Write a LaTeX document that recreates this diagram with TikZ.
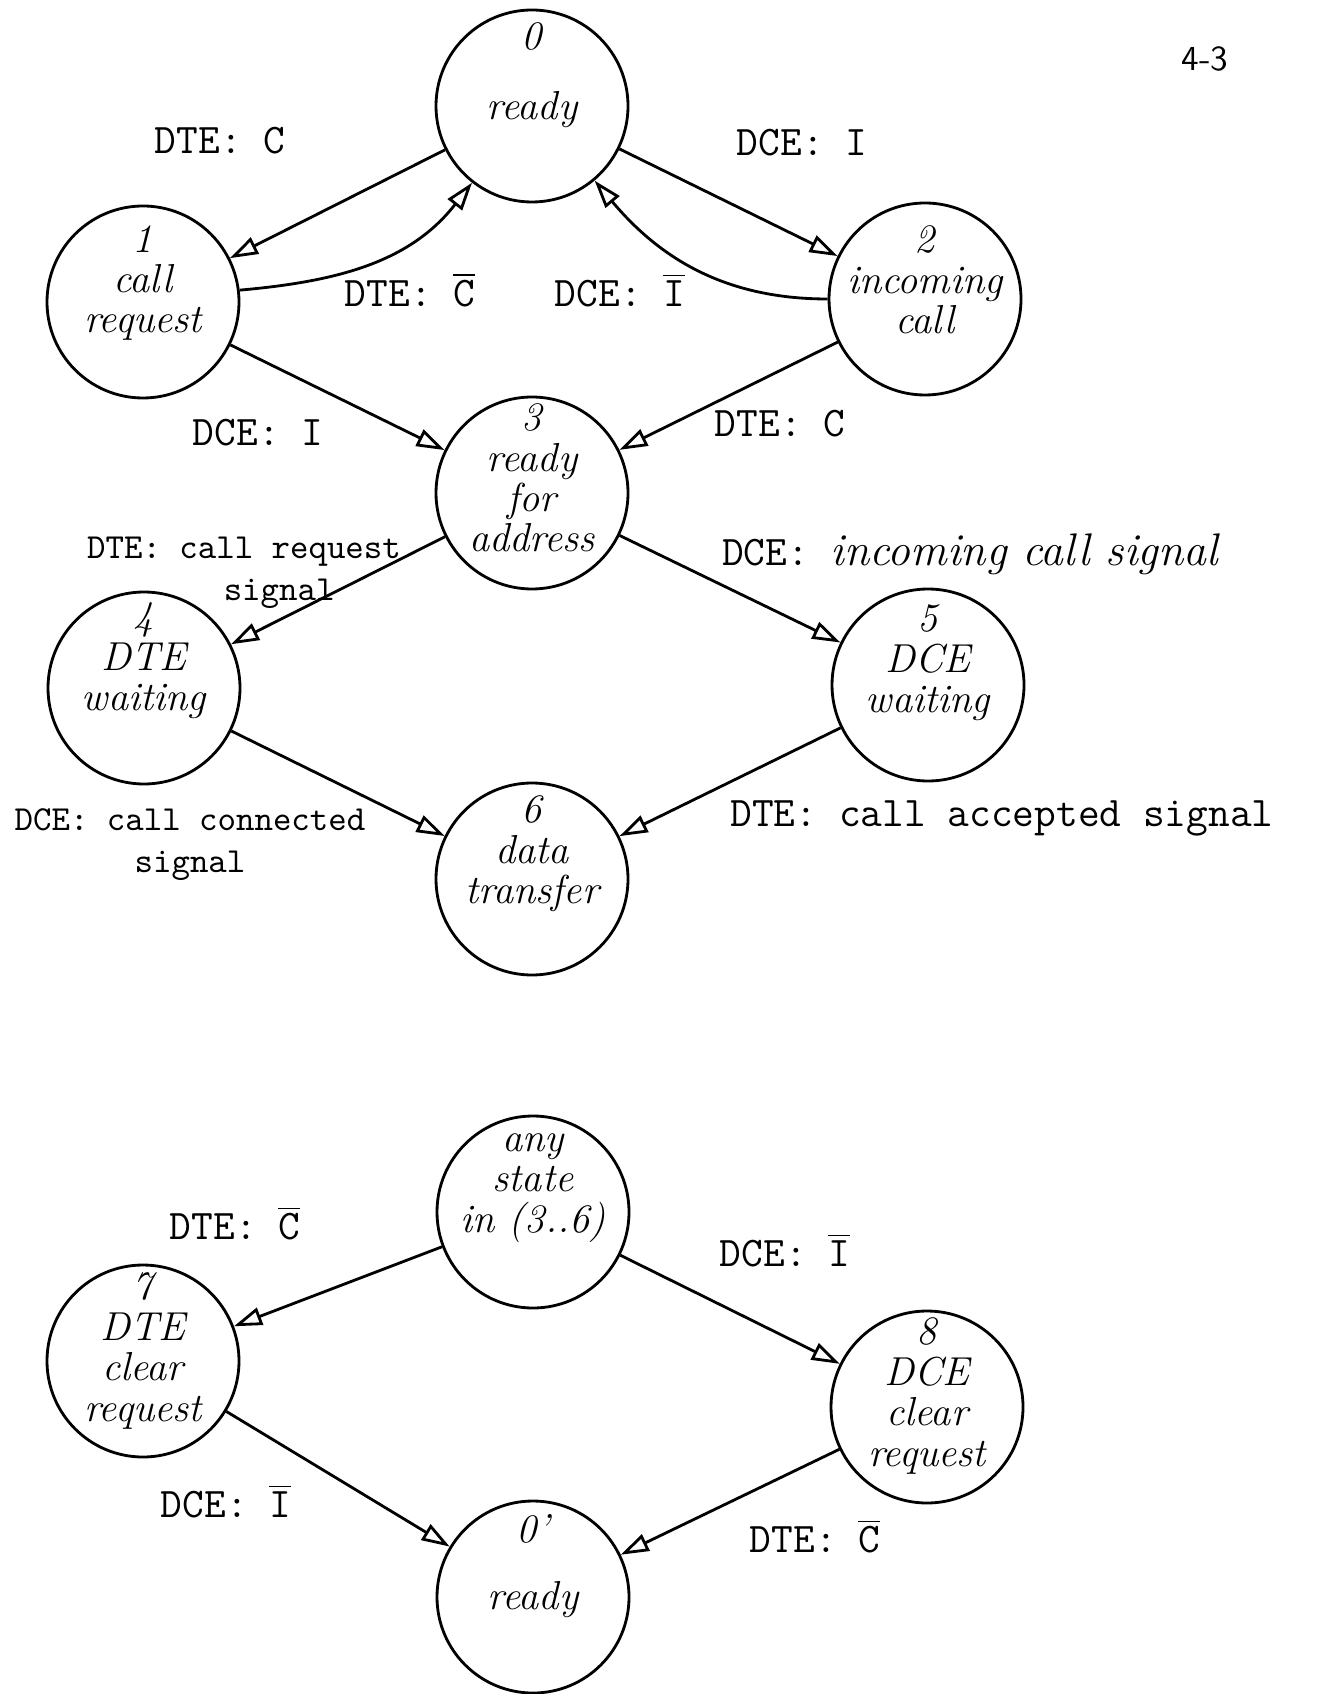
\documentclass[tikz,border=0pt]{standalone}
\usepackage{tikz}
\usetikzlibrary{arrows.meta, calc, positioning}
\tikzset{
    state/.style={circle, draw, line width=0.8pt, inner sep=0pt, minimum size=19.2mm},
    stateText/.style={align=center, font=\fontsize{11.5}{11.5}\selectfont\itshape, inner sep=0pt},
    trans/.style={-{Triangle[open, length=2.8mm, width=1.8mm]}, line width=0.8pt},
    transLabel/.style={font=\ttfamily\large, inner sep=1pt},
    smallLabel/.style={font=\ttfamily, align=center, inner sep=1pt},
}
\newcommand{\drawState}[4][2mm]{
    \node[state] (#2) at (#3) {};
    \node[stateText] (#2txt) at ([yshift=#1]#2) {#4};
}
\newcommand{\drawTrans}[2]{
    \draw[trans] (#1) -- (#2);
}
\newcommand{\notC}{$\overline{\mbox{C}}$}
\newcommand{\notI}{$\overline{\mbox{I}}$}

\begin{document}
\begin{tikzpicture}[x=0.1mm, y=-0.1mm]
        \useasboundingbox (0,0) rectangle (1323,1694);

        \drawState[3.1mm]{s0}{532,106}{0\\[8.5pt]ready}
        \drawState[1.9mm]{s1}{143,302}{1\\call\\request}
        \drawState[1.9mm]{s2}{925,299}{2\\incoming\\call}
        \drawState[1.5mm]{s3}{532,493}{3\\ready\\for\\address}
        \drawState[2.7mm]{s4}{144,688}{4\\DTE\\waiting}
        \drawState[2.2mm]{s5}{928,685}{5\\DCE\\waiting}
        \drawState[2.5mm]{s6}{532,879}{6\\data\\transfer}

        \drawState[2.4mm]{sAny}{533,1212}{any\\state\\in (3..6)}
        \drawState[1mm]{s7}{143,1361}{7\\DTE\\clear\\request}
        \drawState[1.1mm]{s8}{927,1407}{8\\DCE\\clear\\request}
        \drawState[3.1mm]{s0b}{533,1597}{0'\\[7.5pt]ready}

        \drawTrans{s0}{s1}
        \draw[trans] (s1.7) to[out=5, in=232] (s0);
        \drawTrans{s0}{s2}
        \draw[trans] (s2.west) to[out=180, in=-50] (s0);
        \drawTrans{s1}{s3}
        \drawTrans{s2}{s3}
        \drawTrans{s3}{s4}
        \drawTrans{s3}{s5}
        \drawTrans{s4}{s6}
        \drawTrans{s5}{s6}

        \drawTrans{sAny}{s7}
        \drawTrans{sAny}{s8}
        \drawTrans{s7}{s0b}
        \drawTrans{s8}{s0b}

        \node[font=\sffamily] (page) at (1205,59) {4-3};
        \node[transLabel] (lDteC) at (220,141) {DTE: C};
        \node[transLabel] (lDceI) at (802,143) {DCE: I};
        \node[transLabel] (lDteNotC) at (410,290) {DTE: \notC};
        \node[transLabel] (lDceNotI) at (620,290) {DCE: \notI};
        \node[transLabel] (lDceI2) at (258,433) {DCE: I};
        \node[transLabel] (lDteC2) at (780,424) {DTE: C};
        \node[smallLabel] (lCallReq) at (244,573) {DTE: call request\\\hspace*{2em}signal};
        \node[transLabel] (lIncoming) at (970,554) {DCE: {\rmfamily\itshape\fontsize{13}{13}\selectfont incoming call signal}};
        \node[smallLabel] (lConnected) at (190,845) {DCE: call connected\\signal};
        \node[transLabel] (lAccepted) at (1002,818) {DTE: call accepted signal};

        \node[transLabel] (lDteNotC2) at (235,1223) {DTE: \notC};
        \node[transLabel] (lDceNotI2) at (785,1250) {DCE: \notI};
        \node[transLabel] (lDceNotI3) at (226,1501) {DCE: \notI};
        \node[transLabel] (lDteNotC3) at (815,1536) {DTE: \notC};
    \end{tikzpicture}
\end{document}
